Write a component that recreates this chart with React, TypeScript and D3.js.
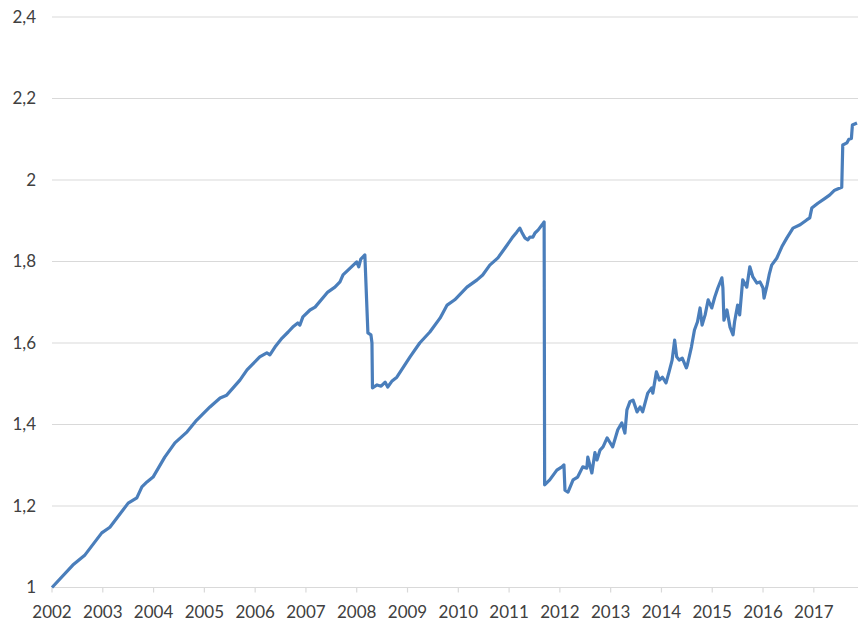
import { useEffect, useRef } from "react";
import * as d3 from "d3";

// Index series: decimal year, value (start = 1)
const years = [
  2002.0, 2002.41, 2002.65, 2002.98, 2003.14, 2003.5, 2003.67, 2003.77, 2003.87, 2003.99,
  2004.22, 2004.42, 2004.66, 2004.85, 2005.11, 2005.31, 2005.44, 2005.7, 2005.84, 2006.09,
  2006.23, 2006.29, 2006.39, 2006.53, 2006.65, 2006.74, 2006.84, 2006.88, 2006.94, 2007.08,
  2007.18, 2007.43, 2007.57, 2007.67, 2007.73, 2008.0, 2008.04, 2008.08, 2008.16, 2008.2,
  2008.22, 2008.28, 2008.3, 2008.31, 2008.4, 2008.48, 2008.56, 2008.61, 2008.69, 2008.79,
  2009.05, 2009.24, 2009.44, 2009.64, 2009.78, 2009.93, 2010.17, 2010.37, 2010.48, 2010.62,
  2010.78, 2010.92, 2011.06, 2011.15, 2011.21, 2011.25, 2011.31, 2011.37, 2011.41, 2011.47,
  2011.51, 2011.57, 2011.65, 2011.69,
  2011.7, 2011.8, 2011.94, 2012.04, 2012.08, 2012.1, 2012.16, 2012.26, 2012.35, 2012.45,
  2012.53, 2012.55, 2012.63, 2012.69, 2012.73, 2012.79, 2012.85, 2012.93, 2012.98, 2013.04,
  2013.14, 2013.22, 2013.28, 2013.32, 2013.38, 2013.44, 2013.52, 2013.58, 2013.63, 2013.73,
  2013.81, 2013.83, 2013.9, 2013.96, 2014.02, 2014.09, 2014.15, 2014.21, 2014.26, 2014.3,
  2014.35, 2014.41, 2014.49, 2014.51, 2014.59, 2014.65, 2014.71, 2014.76, 2014.8, 2014.86,
  2014.92, 2014.99, 2015.05, 2015.11, 2015.19, 2015.21, 2015.23, 2015.29, 2015.35, 2015.41,
  2015.44, 2015.5, 2015.54, 2015.6, 2015.68, 2015.74, 2015.8, 2015.88, 2015.94, 2016.0,
  2016.02, 2016.08, 2016.12, 2016.17, 2016.27,
  2016.37, 2016.47, 2016.59, 2016.73, 2016.86, 2016.92, 2016.96, 2017.08, 2017.22, 2017.31,
  2017.41, 2017.55, 2017.57, 2017.65, 2017.69, 2017.74, 2017.76, 2017.85,
];

const values = [
  1.0, 1.055, 1.08, 1.134, 1.148, 1.207, 1.22, 1.247, 1.259, 1.271,
  1.32, 1.355, 1.382, 1.411, 1.443, 1.465, 1.472, 1.509, 1.534, 1.566,
  1.576, 1.571, 1.59, 1.612, 1.627, 1.639, 1.649, 1.644, 1.664, 1.681,
  1.688, 1.725, 1.737, 1.75, 1.767, 1.799, 1.787, 1.806, 1.816, 1.688,
  1.625, 1.62, 1.6, 1.49, 1.497, 1.494, 1.504, 1.492, 1.506, 1.516,
  1.566, 1.6, 1.627, 1.661, 1.693, 1.706, 1.737, 1.755, 1.767, 1.791,
  1.809, 1.833, 1.858, 1.872, 1.882, 1.872, 1.858, 1.853, 1.86, 1.86,
  1.87, 1.877, 1.89, 1.897,
  1.252, 1.264, 1.288, 1.296, 1.301, 1.239, 1.234, 1.264, 1.271, 1.296,
  1.293, 1.32, 1.281, 1.331, 1.313, 1.337, 1.345, 1.367, 1.357, 1.345,
  1.387, 1.404, 1.379, 1.436, 1.456, 1.46, 1.431, 1.443, 1.431, 1.477,
  1.49, 1.477, 1.529, 1.509, 1.516, 1.502, 1.529, 1.558, 1.607, 1.566,
  1.558, 1.563, 1.539, 1.546, 1.59, 1.632, 1.652, 1.686, 1.644, 1.669,
  1.706, 1.686, 1.713, 1.735, 1.76, 1.735, 1.656, 1.681, 1.639, 1.62,
  1.652, 1.693, 1.669, 1.755, 1.737, 1.787, 1.762, 1.747, 1.75, 1.735,
  1.71, 1.742, 1.767, 1.791, 1.808,
  1.836, 1.858, 1.882, 1.89, 1.902, 1.907, 1.931, 1.943, 1.955, 1.963,
  1.975, 1.982, 2.086, 2.091, 2.1, 2.102, 2.135, 2.14,
];

const yTicks = [1, 1.2, 1.4, 1.6, 1.8, 2, 2.2, 2.4];
const xTicks = d3.range(2002, 2018);

export default function App() {
  const ref = useRef<SVGSVGElement>(null);

  useEffect(() => {
    if (!ref.current) return;
    const width = 858;
    const height = 622;
    const margin = { top: 17, right: 0, bottom: 34.5, left: 52 };

    const svg = d3.select(ref.current);
    svg.selectAll("*").remove();

    const x = d3
      .scaleLinear()
      .domain([2002, 2017.87])
      .range([margin.left, width - margin.right]);
    const y = d3
      .scaleLinear()
      .domain([1, 2.4])
      .range([height - margin.bottom, margin.top]);

    const fmt = (v: number) => d3.format("~g")(+v.toFixed(1)).replace(".", ",");

    // horizontal gridlines (the one at 1 doubles as the x axis)
    svg
      .append("g")
      .selectAll("line")
      .data(yTicks)
      .join("line")
      .attr("x1", margin.left)
      .attr("x2", width - margin.right)
      .attr("y1", (d) => y(d))
      .attr("y2", (d) => y(d))
      .attr("stroke", "#d9d9d9")
      .attr("stroke-width", 1.2);

    // y labels
    svg
      .append("g")
      .selectAll("text")
      .data(yTicks)
      .join("text")
      .attr("x", 36)
      .attr("y", (d) => y(d))
      .attr("dy", "0.35em")
      .attr("text-anchor", "end")
      .attr("fill", "#404040")
      .attr("font-size", 17)
      .text((d) => fmt(d));

    // x tick marks + labels
    const xg = svg.append("g");
    xg.selectAll("line")
      .data(xTicks)
      .join("line")
      .attr("x1", (d) => x(d))
      .attr("x2", (d) => x(d))
      .attr("y1", y(1))
      .attr("y2", y(1) + 5)
      .attr("stroke", "#d9d9d9")
      .attr("stroke-width", 1.2);
    xg.selectAll("text")
      .data(xTicks)
      .join("text")
      .attr("x", (d) => x(d))
      .attr("y", 618)
      .attr("text-anchor", "middle")
      .attr("fill", "#404040")
      .attr("font-size", 17)
      .text((d) => String(d));

    const n = Math.min(years.length, values.length);
    const line = d3
      .line<number>()
      .x((i) => x(years[i]))
      .y((i) => y(values[i]));

    svg
      .append("path")
      .datum(d3.range(n))
      .attr("d", line)
      .attr("fill", "none")
      .attr("stroke", "#4a7ebb")
      .attr("stroke-width", 3.2)
      .attr("stroke-linejoin", "round");
  }, []);

  return (
    <>
      <style>{`body{margin:0}`}</style>
      <svg
        ref={ref}
        width={858}
        height={622}
        style={{ display: "block", fontFamily: "Lato, sans-serif" }}
      />
    </>
  );
}
